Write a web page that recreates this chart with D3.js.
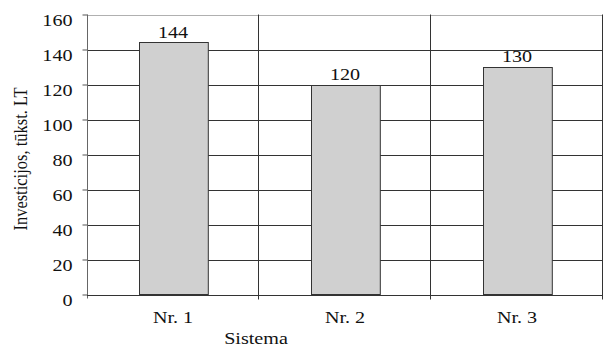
<!DOCTYPE html>
<html>
<head>
<meta charset="utf-8">
<script src="https://cdn.jsdelivr.net/npm/d3@7/dist/d3.min.js"></script>
<style>
  html, body { margin: 0; padding: 0; background: #fff; }
  svg { display: block; }
  text { font-family: "Liberation Serif", "Times New Roman", serif; fill: #111; }
</style>
</head>
<body>
<svg id="chart" width="603" height="347"></svg>
<script>
// Investment per system (thousand LT)
const categories = ["Nr. 1", "Nr. 2", "Nr. 3"];
const values = [144, 120, 130];
const yTicks = [0, 20, 40, 60, 80, 100, 120, 140, 160];
const xTitle = "Sistema";
const yTitle = "Investicijos, tūkst. LT";

const W = 603, H = 347;
const plot = { left: 87, right: 603, top: 14.5, bottom: 294.5 };
const FONT = 17.5;
const WIDE = 1.15; // slightly widened lettering

const svg = d3.select("#chart");

const x = d3.scaleBand()
  .domain(categories)
  .range([plot.left, plot.right])
  .paddingInner(0.6)
  .paddingOuter(0.3);

const y = d3.scaleLinear()
  .domain([0, 160])
  .range([plot.bottom, plot.top]);

const step = x.step();
const boundaries = d3.range(categories.length + 1).map(i => plot.left + i * step);

// place a horizontally widened text at (px, py)
function label(parent, px, py, str, anchor) {
  return parent.append("text")
    .attr("transform", `translate(${px},${py}) scale(${WIDE},1)`)
    .attr("text-anchor", anchor || "middle")
    .attr("font-size", FONT)
    .text(str);
}

// horizontal gridlines
svg.append("g")
  .selectAll("line")
  .data(yTicks.filter(t => t > 0))
  .join("line")
  .attr("x1", plot.left).attr("x2", plot.right)
  .attr("y1", d => Math.round(y(d)) + 0.5)
  .attr("y2", d => Math.round(y(d)) + 0.5)
  .attr("stroke", d => d === 160 ? "#b0b0b0" : "#333")
  .attr("stroke-width", 1);

// vertical separators between categories
svg.append("g")
  .selectAll("line")
  .data(boundaries.slice(1))
  .join("line")
  .attr("x1", d => Math.round(d) - 0.5).attr("x2", d => Math.round(d) - 0.5)
  .attr("y1", plot.top).attr("y2", plot.bottom + 5)
  .attr("stroke", "#333")
  .attr("stroke-width", 1);

// bars
svg.append("g")
  .selectAll("rect")
  .data(values)
  .join("rect")
  .attr("x", (d, i) => Math.round(x(categories[i])) + 0.5)
  .attr("y", d => Math.round(y(d)) + 0.5)
  .attr("width", x.bandwidth())
  .attr("height", d => y(0) - Math.round(y(d)) - 0.5)
  .attr("fill", "#d0d0d0")
  .attr("stroke", "#333")
  .attr("stroke-width", 1);

// value labels
const gVal = svg.append("g");
values.forEach((v, i) => {
  label(gVal, x(categories[i]) + x.bandwidth() / 2, y(v) - 5, String(v));
});

// y axis
const yAxis = d3.axisLeft(y)
  .tickValues(yTicks)
  .tickSize(5)
  .tickPadding(10)
  .tickFormat(d3.format("d"));
const gy = svg.append("g")
  .attr("transform", `translate(${plot.left + 0.5},0)`)
  .call(yAxis);
gy.select(".domain").remove();
gy.selectAll(".tick line").attr("stroke", "#555");
gy.selectAll(".tick text")
  .attr("x", null)
  .attr("dy", null)
  .attr("transform", `translate(-15,11) scale(${WIDE},1)`)
  .attr("font-size", FONT)
  .attr("font-family", "Liberation Serif, serif")
  .attr("fill", "#111");
gy.append("line")
  .attr("x1", 0).attr("x2", 0)
  .attr("y1", plot.top).attr("y2", plot.bottom + 4)
  .attr("stroke", "#666");

// x axis baseline and category labels
svg.append("line")
  .attr("x1", plot.left).attr("x2", plot.right)
  .attr("y1", Math.round(y(0)) + 0.5).attr("y2", Math.round(y(0)) + 0.5)
  .attr("stroke", "#333");
const gx = svg.append("g");
categories.forEach(c => {
  label(gx, x(c) + x.bandwidth() / 2, 323, c);
});

// axis titles
label(svg, 256, 344, xTitle);

svg.append("text")
  .attr("transform", `translate(27,159) scale(${WIDE},1) rotate(-90)`)
  .attr("text-anchor", "middle")
  .attr("font-size", 16.5)
  .text(yTitle);
</script>
</body>
</html>
